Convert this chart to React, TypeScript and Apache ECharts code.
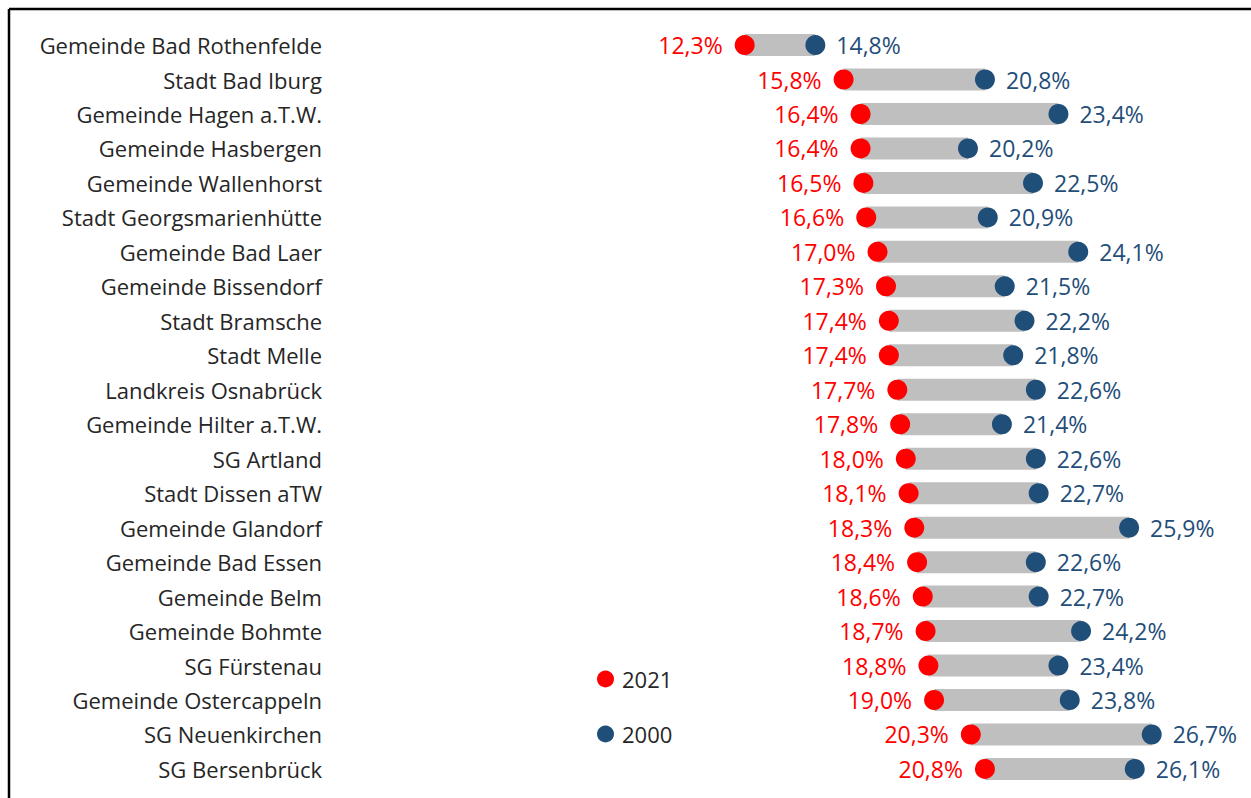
import React, { useEffect, useRef } from "react";
import * as echarts from "echarts";

const categories = [
  "Gemeinde Bad Rothenfelde",
  "Stadt Bad Iburg",
  "Gemeinde Hagen a.T.W.",
  "Gemeinde Hasbergen",
  "Gemeinde Wallenhorst",
  "Stadt Georgsmarienhütte",
  "Gemeinde Bad Laer",
  "Gemeinde Bissendorf",
  "Stadt Bramsche",
  "Stadt Melle",
  "Landkreis Osnabrück",
  "Gemeinde Hilter a.T.W.",
  "SG Artland",
  "Stadt Dissen aTW",
  "Gemeinde Glandorf",
  "Gemeinde Bad Essen",
  "Gemeinde Belm",
  "Gemeinde Bohmte",
  "SG Fürstenau",
  "Gemeinde Ostercappeln",
  "SG Neuenkirchen",
  "SG Bersenbrück",
];

const values2021 = [12.3, 15.8, 16.4, 16.4, 16.5, 16.6, 17.0, 17.3, 17.4, 17.4, 17.7, 17.8, 18.0, 18.1, 18.3, 18.4, 18.6, 18.7, 18.8, 19.0, 20.3, 20.8];
const values2000 = [14.8, 20.8, 23.4, 20.2, 22.5, 20.9, 24.1, 21.5, 22.2, 21.8, 22.6, 21.4, 22.6, 22.7, 25.9, 22.6, 22.7, 24.2, 23.4, 23.8, 26.7, 26.1];

const RED = "#FF0000";
const BLUE = "#1F4E79";
const GRAY = "#BFBFBF";
const TEXT = "#262626";
const FONT = "'Open Sans', 'Noto Sans', sans-serif";

const fmt = (v: number) => v.toFixed(1).replace(".", ",") + "%";

export default function App() {
  const ref = useRef<HTMLDivElement>(null);
  useEffect(() => {
    if (!ref.current) return;
    const chart = echarts.init(ref.current, undefined, { renderer: "svg" });
    const gaps = values2000.map((v, i) => +(v - values2021[i]).toFixed(1));
    chart.setOption({
      animation: false,
      backgroundColor: "#ffffff",
      textStyle: { fontFamily: FONT },
      grid: { left: 397, width: 848, top: 27.8, height: 758.4, containLabel: false },
      xAxis: {
        type: "value",
        min: 0,
        max: 30,
        show: false,
      },
      yAxis: {
        type: "category",
        data: categories,
        inverse: true,
        axisLine: { show: false },
        axisTick: { show: false },
        splitLine: { show: false },
        axisLabel: {
          margin: 75,
          fontSize: 22,
          color: TEXT,
          fontFamily: FONT,
        },
      },
      legend: [
        {
          data: ["2021"],
          left: 597,
          top: 668,
          padding: 0,
          icon: "circle",
          itemWidth: 17,
          itemHeight: 17,
          textStyle: { fontSize: 22, color: TEXT, fontFamily: FONT, padding: [0, 0, 0, 3] },
        },
        {
          data: ["2000"],
          left: 597,
          top: 723,
          padding: 0,
          icon: "circle",
          itemWidth: 17,
          itemHeight: 17,
          textStyle: { fontSize: 22, color: TEXT, fontFamily: FONT, padding: [0, 0, 0, 3] },
        },
      ],
      graphic: [
        { type: "line", shape: { x1: 9, y1: 9, x2: 1251, y2: 9 }, style: { stroke: "#000", lineWidth: 2.5 } },
        { type: "line", shape: { x1: 9, y1: 9, x2: 9, y2: 798 }, style: { stroke: "#000", lineWidth: 2.5 } },
      ],
      series: [
        {
          name: "base",
          type: "bar",
          stack: "s",
          data: values2021,
          barWidth: 22,
          itemStyle: { color: "transparent" },
          silent: true,
        },
        {
          name: "gap",
          type: "bar",
          stack: "s",
          data: gaps,
          barWidth: 22,
          itemStyle: { color: GRAY },
          silent: true,
        },
        {
          name: "2021",
          type: "scatter",
          data: values2021,
          symbol: "circle",
          symbolSize: 20,
          itemStyle: { color: RED, opacity: 1 },
          z: 5,
          label: {
            show: true,
            position: "left",
            distance: 12,
            color: RED,
            fontSize: 23,
            fontFamily: FONT,
            formatter: (p: any) => fmt(p.value),
          },
        },
        {
          name: "2000",
          type: "scatter",
          data: values2000,
          symbol: "circle",
          symbolSize: 20,
          itemStyle: { color: BLUE, opacity: 1 },
          z: 5,
          label: {
            show: true,
            position: "right",
            distance: 11,
            color: BLUE,
            fontSize: 23,
            fontFamily: FONT,
            formatter: (p: any) => fmt(p.value),
          },
        },
      ],
    });
    return () => chart.dispose();
  }, []);
  return (
    <div
      ref={ref}
      style={{ position: "fixed", left: 0, top: 0, width: 1251, height: 798, background: "#fff" }}
    />
  );
}
